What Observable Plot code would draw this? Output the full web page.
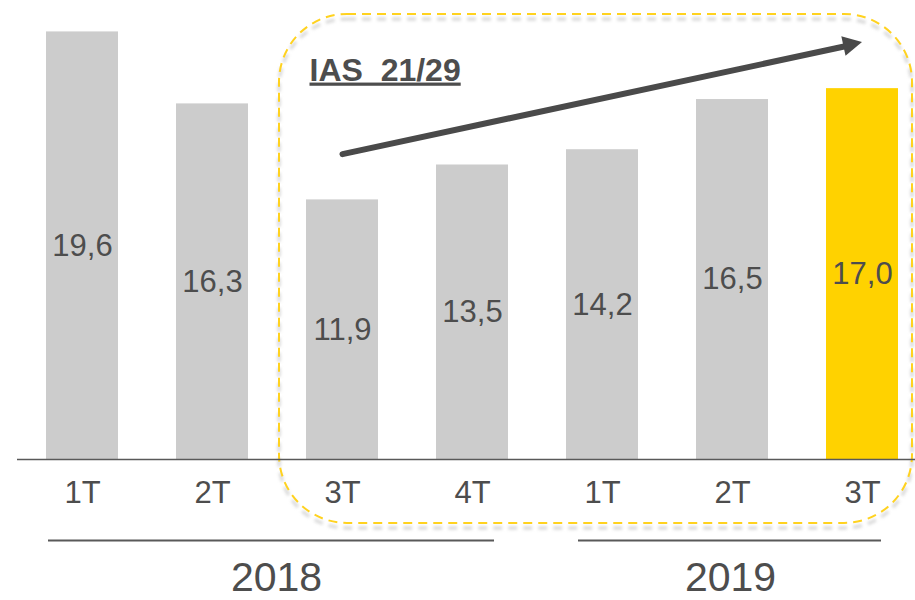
<!DOCTYPE html>
<html>
<head>
<meta charset="utf-8">
<script src="https://cdn.jsdelivr.net/npm/d3@7"></script>
<script src="https://cdn.jsdelivr.net/npm/@observablehq/plot@0.6"></script>
<style>
  html, body { margin: 0; padding: 0; background: #ffffff; }
  #chart svg { display: block; }
</style>
</head>
<body>
<div id="chart"></div>
<script>
// ---- Data ----
const years = ["2018", "2018", "2018", "2018", "2019", "2019", "2019"];
const quarters = ["1T", "2T", "3T", "4T", "1T", "2T", "3T"];
const values = [19.6, 16.3, 11.9, 13.5, 14.2, 16.5, 17.0];
const highlighted = [false, false, false, false, false, false, true];
const yearLabels = ["2018", "2019"];
const annotationLabel = "IAS  21/29";
// trend arrow (value scale) from 2018 3T to 2019 3T
const trendStart = 14.0;
const trendEnd = 19.11;
// annotation box vertical extent (value scale)
const boxTop = 20.4;
const boxBottom = -2.93;
const annotationLevel = 17.84;

// ---- Tables built from the arrays ----
const rows = values.map((v, i) => ({
  key: years[i] + " " + quarters[i],
  year: years[i],
  quarter: quarters[i],
  value: v,
  hl: highlighted[i]
}));
const keys = rows.map(d => d.key);
const yearSpans = yearLabels.map(y => {
  const ks = rows.filter(d => d.year === y).map(d => d.key);
  return {year: y, from: ks[0], to: ks[ks.length - 1], mid: ks[1]};
});
const trend = [{from: keys[2], to: keys[6], y1: trendStart, y2: trendEnd}];
const fmt = v => v.toFixed(1).replace(".", ",");

const ink = "#4d4d4d";
const arrowInk = "#4a4a4a";

function annotationBox(index, scales) {
  const {x, y} = scales;
  const bw = x.bandwidth();
  const left = x(keys[2]) - 27;
  const right = x(keys[6]) + bw + 14;
  const top = y(boxTop);
  const bottom = y(boxBottom);
  const g = d3.create("svg:g");
  const f = g.append("defs").append("filter")
    .attr("id", "boxShadow").attr("x", "-5%").attr("y", "-5%")
    .attr("width", "110%").attr("height", "110%");
  f.append("feGaussianBlur").attr("stdDeviation", 1.6);
  const shape = sel => sel
    .attr("x", left).attr("y", top)
    .attr("width", right - left).attr("height", bottom - top)
    .attr("rx", 68).attr("ry", 68)
    .attr("fill", "none")
    .attr("stroke-dasharray", "9 6");
  g.append("rect").call(shape)
    .attr("transform", "translate(0,5)")
    .attr("stroke", "#bdbdbd").attr("stroke-width", 3.5)
    .attr("opacity", 0.55)
    .attr("filter", "url(#boxShadow)");
  g.append("rect").call(shape)
    .attr("stroke", "#FFD21F").attr("stroke-width", 2);
  return g.node();
}

// filled arrowhead at the end of the trend line, placed through the scales
function trendHead(index, scales) {
  const {x, y} = scales;
  const half = x.bandwidth() / 2;
  const g = d3.create("svg:g");
  for (const t of trend) {
    const x0 = x(t.from) + half, y0 = y(t.y1);
    const x1 = x(t.to) + half, y1 = y(t.y2);
    const len = Math.hypot(x1 - x0, y1 - y0);
    const ux = (x1 - x0) / len, uy = (y1 - y0) / len;
    const headLen = 19, headHalf = 10;
    const bx = x1 - ux * headLen, by = y1 - uy * headLen;
    const pts = [
      [x1, y1],
      [bx - uy * headHalf, by + ux * headHalf],
      [bx + uy * headHalf, by - ux * headHalf]
    ];
    g.append("polygon")
      .attr("points", pts.map(p => p.join(",")).join(" "))
      .attr("fill", arrowInk);
  }
  return g.node();
}

const chart = Plot.plot({
  width: 915,
  height: 600,
  marginTop: 0,
  marginLeft: 17,
  marginRight: 0,
  marginBottom: 141,
  style: {
    fontFamily: "'Liberation Sans', Arial, Helvetica, sans-serif",
    fontSize: "31px",
    color: ink,
    background: "#ffffff",
    overflow: "visible"
  },
  x: {
    type: "band",
    domain: keys,
    range: [17, 927],
    paddingInner: 0.446,
    paddingOuter: 0.223,
    tickSize: 0,
    tickPadding: 21,
    tickFormat: k => k.split(" ")[1],
    label: null
  },
  y: {
    domain: [0, 21.04],
    range: [459, 0],
    axis: null
  },
  marks: [
    annotationBox,
    Plot.barY(rows, {filter: d => !d.hl, x: "key", y: "value", fill: "#CCCCCC"}),
    Plot.barY(rows, {filter: d => d.hl, x: "key", y: "value", fill: "#FFD200"}),
    Plot.text(rows, {x: "key", y: d => d.value / 2, text: d => fmt(d.value), fontSize: 31, fill: ink}),
    Plot.ruleY([0], {stroke: "#595959", strokeWidth: 1.6}),
    Plot.ruleY(yearSpans.filter(d => d.year === "2018"), {x1: "from", x2: "to", y: 0, dy: 81, insetLeft: 2, insetRight: 14, stroke: "#595959", strokeWidth: 2}),
    Plot.ruleY(yearSpans.filter(d => d.year === "2019"), {x1: "from", x2: "to", y: 0, dy: 81, insetLeft: 12, insetRight: 17, stroke: "#595959", strokeWidth: 2}),
    Plot.text(yearSpans.filter(d => d.year === "2018"), {x: "mid", y: 0, dy: 118, dx: 64, text: "year", fontSize: 41, fill: ink}),
    Plot.text(yearSpans.filter(d => d.year === "2019"), {x: "mid", y: 0, dy: 118, dx: -2, text: "year", fontSize: 41, fill: ink}),
    Plot.arrow(trend, {
      x1: "from", y1: "y1", x2: "to", y2: "y2",
      stroke: arrowInk, strokeWidth: 6, headLength: 0, insetEnd: 14
    }),
    trendHead,
    Plot.text([{label: annotationLabel, at: keys[2], level: annotationLevel}], {
      x: "at", y: "level", text: "label", textAnchor: "start", dx: -33,
      fontSize: 32, fontWeight: "bold", fill: ink
    })
  ]
});

d3.select(chart).selectAll("text")
  .filter(function() { return this.textContent.includes("IAS"); })
  .attr("xml:space", "preserve")
  .style("white-space", "pre")
  .style("text-decoration", "underline");

document.getElementById("chart").appendChild(chart);
</script>
</body>
</html>
